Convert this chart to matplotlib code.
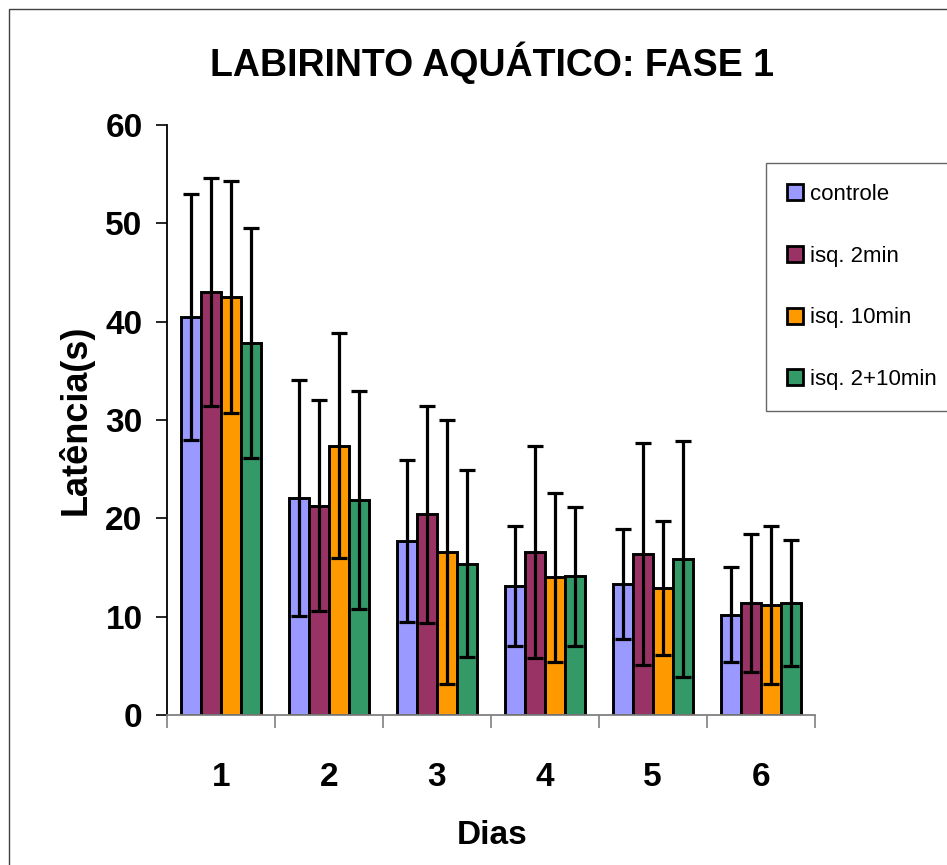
import matplotlib
matplotlib.use("Agg")
import matplotlib.pyplot as plt
import numpy as np
from matplotlib import font_manager
from matplotlib.patches import Rectangle, Patch

# ---- data ----
days = ['1', '2', '3', '4', '5', '6']
series_names = ['controle', 'isq. 2min', 'isq. 10min', 'isq. 2+10min']
controle = [40.5, 22.1, 17.7, 13.1, 13.3, 10.2]
controle_err = [12.5, 12.0, 8.2, 6.1, 5.6, 4.85]
isq2 = [43.0, 21.3, 20.4, 16.6, 16.4, 11.4]
isq2_err = [11.6, 10.7, 11.0, 10.8, 11.3, 7.0]
isq10 = [42.5, 27.4, 16.6, 14.0, 12.9, 11.2]
isq10_err = [11.8, 11.4, 13.4, 8.6, 6.8, 8.0]
isq2_10 = [37.8, 21.9, 15.4, 14.1, 15.9, 11.4]
isq2_10_err = [11.7, 11.1, 9.5, 7.1, 12.0, 6.4]
yticks = [0, 10, 20, 30, 40, 50, 60]
title = 'LABIRINTO AQUÁTICO: FASE 1'
xlabel = 'Dias'
ylabel = 'Latência(s)'

colors = ['#9999FF', '#993366', '#FF9900', '#339966']
means = [controle, isq2, isq10, isq2_10]
errs = [controle_err, isq2_err, isq10_err, isq2_10_err]

names = {f.name for f in font_manager.fontManager.ttflist}
base = 'Liberation Sans' if 'Liberation Sans' in names else 'DejaVu Sans'
narrow = 'Liberation Sans Narrow' if 'Liberation Sans Narrow' in names else None

plt.rcParams['font.family'] = [base, 'DejaVu Sans']

W, H = 947, 865
fig = plt.figure(figsize=(W / 100, H / 100), dpi=100)
ax = fig.add_axes([166.7 / W, 1 - 715 / H, 648 / W, 590 / H])

x = np.arange(len(days))
bw = 20 / 108
for i, (m, e, c) in enumerate(zip(means, errs, colors)):
    pos = x + (i - 1.5) * bw
    ax.bar(pos, m, width=bw, color=c, edgecolor='black', linewidth=2.1, zorder=2)
    ax.errorbar(pos, m, yerr=e, fmt='none', ecolor='black', elinewidth=2.3,
                capsize=6, capthick=2.3, zorder=3)

ax.set_xlim(-0.5, len(days) - 0.5)
ax.set_ylim(0, 60)
ax.set_yticks(yticks)
ax.set_yticklabels([str(v) for v in yticks], fontsize=24, fontweight='bold')
ax.set_xticks(x)
ax.set_xticklabels(days, fontsize=24, fontweight='bold')
ax.set_xticks(np.arange(-0.5, len(days)), minor=True)
ax.tick_params(axis='x', which='major', length=0, pad=34)
ax.tick_params(axis='x', which='minor', length=9.4, width=1.2, color='#808080', direction='out')
ax.tick_params(axis='y', which='major', length=8, width=1.2, color='black', pad=9.4)

for s in ['top', 'right']:
    ax.spines[s].set_visible(False)
ax.spines['left'].set_color('black')
ax.spines['left'].set_linewidth(1.3)
ax.spines['bottom'].set_color('#808080')
ax.spines['bottom'].set_linewidth(1.3)

ax.set_xlabel(xlabel, fontsize=24, fontweight='bold')
ax.xaxis.label.set_va('center')
ax.xaxis.set_label_coords((492 - 166.7) / 648, (715 - 835) / 590)
ax.set_ylabel(ylabel, fontsize=26, fontweight='bold')
ax.yaxis.label.set_va('center')
ax.yaxis.set_label_coords((76 - 166.7) / 648, (715 - 420) / 590)

if narrow:
    ax.set_title(title, fontsize=33, fontweight='bold', family=[narrow, base],
                 x=(491.5 - 166.7) / 648, y=(715 - 71) / 590, va='center')
else:
    ax.set_title(title, fontsize=27, fontweight='bold',
                 x=(491.5 - 166.7) / 648, y=(715 - 71) / 590, va='center')

handles = [Patch(facecolor=c, edgecolor='black', linewidth=2.0) for c in colors]
leg = fig.legend(handles, series_names, loc='upper left',
                 bbox_to_anchor=(766 / W, 1 - 163 / H), borderaxespad=0,
                 fontsize=16, frameon=True, fancybox=False, shadow=False,
                 handlelength=0.72, handleheight=0.72, handletextpad=0.3,
                 labelspacing=1.83, borderpad=0.95)
leg.get_frame().set_edgecolor('#404040')
leg.get_frame().set_linewidth(1.0)

border = Rectangle((9 / W, -0.2), 1.5, (1 - 9 / H) + 0.2,
                   transform=fig.transFigure, fill=False, edgecolor='#404040',
                   linewidth=1.0)
fig.patches.append(border)

fig.savefig('out.png', dpi=100)
